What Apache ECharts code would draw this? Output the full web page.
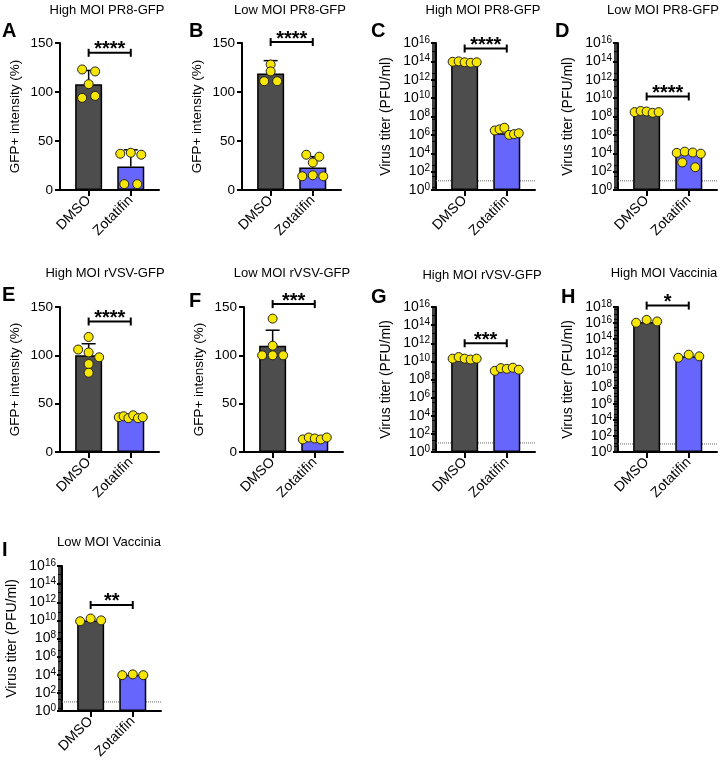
<!DOCTYPE html>
<html><head><meta charset="utf-8">
<script src="https://cdn.jsdelivr.net/npm/echarts@6/dist/echarts.min.js"></script>
<style>html,body{margin:0;padding:0;background:#fff}#c{width:728px;height:767px}</style>
</head><body><div id="c"></div>
<script>
// ---------------- data ----------------
const groups = ['DMSO', 'Zotatifin'];
const panelLetters = ['A','B','C','D','E','F','G','H','I'];
const panelTitles = ['High MOI PR8-GFP','Low MOI PR8-GFP','High MOI PR8-GFP','Low MOI PR8-GFP',
  'High MOI rVSV-GFP','Low MOI rVSV-GFP','High MOI rVSV-GFP','High MOI Vaccinia','Low MOI Vaccinia'];
const panelKinds = ['pct','pct','titer','titer','pct','pct','titer','titer','titer'];
const yTitles = { pct: 'GFP+ intensity (%)', titer: 'Virus titer (PFU/ml)' };
const pctMax = 150, pctStep = 50;
const titerMaxExp = [16,16,16,16,16,16,16,18,16];
const titerStepExp = 2;
const detectionLimit = 10;

const meanDMSO = [108, 119, 8.5e13, 3.5e8, 100, 110, 2.0e10, 1.4e16, 1.0e10];
const meanZot  = [24, 23, 1.5e6, 1.0e4, 35, 13, 1.5e9, 7.5e11, 1.0e4];
const sdDMSO   = [14, 13, null, null, 12, 16, null, null, null];
const sdZot    = [17, 11, null, null, 1.5, 1.5, null, null, null];

const ptsDMSO = [
  [123, 121, 108, 94, 96],
  [128, 121, 111, 111],
  [9e13, 1.0e14, 8e13, 7e13, 8e13],
  [3e8, 4e8, 3.5e8, 2.5e8, 3e8],
  [119, 106, 103, 98, 91, 82],
  [138, 110, 100, 100, 100],
  [2e10, 3e10, 2e10, 1.6e10, 2e10],
  [1.1e16, 2.5e16, 1.6e16],
  [8e9, 1.6e10, 1e10]
];
const ptsZot = [
  [37, 38, 36, 6, 6],
  [36, 28, 34, 14, 15, 14],
  [3e6, 4e6, 6e6, 1e6, 1.2e6, 1.5e6],
  [1.1e4, 1.5e4, 1.2e4, 9e3, 1e3, 3e2],
  [36, 37, 35, 38, 35, 36],
  [13, 15, 14, 13, 15],
  [9e8, 1.8e9, 1.5e9, 2e9, 1.2e9],
  [5e11, 1.2e12, 7.5e11],
  [9e3, 1.1e4, 9e3]
];
const sigStars = ['****','****','****','****','****','***','***','*','**'];
const sigLevel = [140, 151, 2.5e15, 1.5e10, 135, 153, 1e12, 1.5e18, 5e11];

// ---------------- layout / style ----------------
const FONT = 'Liberation Sans, Arial, Helvetica, sans-serif';
const gridLeft = [60, 242, 436, 618, 60, 244, 436, 618, 62];
const gridRow  = [0,0,0,0,1,1,1,1,2];
const rowTop = [43, 307, 566], rowH = [147, 145, 145];
const gridW = 99;
const xMin = -0.68, xMax = 1.67;
const letterPos = [[2,31],[189,31],[371,31],[555,31],[2,295],[189,301],[371,297],[561,297],[2,550]];
const titlePos = [[107,10],[290,10],[483,10],[663,10],[105,273],[292,273],[482,275],[664,273],[109,542]];
const colDMSO = '#4d4d4d', colZot = '#6666fc', colDot = '#f7e600';

const chart = echarts.init(document.getElementById('c'), null, { renderer: 'canvas' });
const tf = k => v => panelKinds[k] === 'titer' ? Math.log10(v) : v;

const grids = [], xAxes = [], yAxes = [], series = [], graphics = [];
for (let k = 0; k < 9; k++) {
  const f = tf(k), kind = panelKinds[k];
  grids.push({ left: gridLeft[k], top: rowTop[gridRow[k]], width: gridW, height: rowH[gridRow[k]] });
  xAxes.push({
    type: 'value', gridIndex: k, min: xMin, max: xMax,
    axisLine: { show: true, onZero: false, lineStyle: { color: '#000', width: 2 } },
    axisTick: { show: true, customValues: [0, 1], length: 6, lineStyle: { color: '#000', width: 2 } },
    axisLabel: { customValues: [0, 1], formatter: v => groups[Math.round(v)], rotate: 45, margin: 8,
      fontSize: 14, color: '#000', fontFamily: FONT },
    splitLine: { show: false }
  });
  const yBase = {
    type: 'value', gridIndex: k, name: yTitles[kind], nameLocation: 'middle',
    nameTextStyle: { fontSize: kind === 'pct' ? 13.5 : 14, color: '#000', fontFamily: FONT },
    axisLine: { show: true, onZero: false, lineStyle: { color: '#000', width: 2 } },
    axisTick: { show: true, length: 5, lineStyle: { color: '#000', width: 2 } },
    splitLine: { show: false }
  };
  if (kind === 'pct') {
    Object.assign(yBase, { min: 0, max: pctMax, interval: pctStep, nameGap: 38,
      axisLabel: { fontSize: 13.5, color: '#000', fontFamily: FONT, margin: 7 } });
  } else {
    Object.assign(yBase, { min: 0, max: titerMaxExp[k], interval: titerStepExp, nameGap: 43,
      minorTick: { show: true, splitNumber: 10, length: 4, lineStyle: { color: '#000', width: 1.5 } },
      axisLabel: { margin: 6, formatter: v => '{b|10}{s|' + v + '}',
        rich: { b: { fontSize: 14, color: '#000', fontFamily: FONT, lineHeight: 16 },
                s: { fontSize: 10, color: '#000', fontFamily: FONT, lineHeight: 7, verticalAlign: 'top' } } } });
  }
  yAxes.push(yBase);

  if (kind === 'titer') {
    series.push({ type: 'line', xAxisIndex: k, yAxisIndex: k, z: 1, silent: true, symbol: 'none',
      lineStyle: { type: 'dotted', color: '#666', width: 1 },
      data: [[xMin, f(detectionLimit)], [xMax, f(detectionLimit)]] });
  }
  series.push({ type: 'bar', xAxisIndex: k, yAxisIndex: k, z: 2, silent: true, barWidth: 27,
    itemStyle: { borderColor: '#000', borderWidth: 1.5 },
    data: [{ value: [0, f(meanDMSO[k])], itemStyle: { color: colDMSO } },
           { value: [1, f(meanZot[k])], itemStyle: { color: colZot } }] });
  if (sdDMSO[k] != null) {
    series.push({ type: 'custom', xAxisIndex: k, yAxisIndex: k, z: 3, silent: true, clip: false,
      encode: { x: 0, y: 1 },
      data: [[0, meanDMSO[k], sdDMSO[k]], [1, meanZot[k], sdZot[k]]],
      renderItem: (p, api) => {
        const x = api.value(0), m = api.value(1), s = api.value(2);
        const a = api.coord([x, m]), b = api.coord([x, m + s]);
        const st = { stroke: '#000', lineWidth: 1.5 };
        return { type: 'group', children: [
          { type: 'line', shape: { x1: a[0], y1: a[1], x2: b[0], y2: b[1] }, style: st },
          { type: 'line', shape: { x1: b[0] - 7, y1: b[1], x2: b[0] + 7, y2: b[1] }, style: st }] };
      } });
  }
  series.push({ id: 'dots' + k, type: 'scatter', xAxisIndex: k, yAxisIndex: k, z: 4, silent: true,
    symbolSize: 9, itemStyle: { color: colDot, borderColor: '#222', borderWidth: 1, opacity: 1 },
    data: [] });
  const stars = sigStars[k];
  series.push({ type: 'custom', xAxisIndex: k, yAxisIndex: k, z: 5, silent: true, clip: false,
    encode: { x: 0, y: 2 },
    data: [[0, 1, f(sigLevel[k])]],
    renderItem: (p, api) => {
      const a = api.coord([api.value(0), api.value(2)]), b = api.coord([api.value(1), api.value(2)]);
      const st = { stroke: '#000', lineWidth: 2 };
      return { type: 'group', children: [
        { type: 'line', shape: { x1: a[0], y1: a[1], x2: b[0], y2: b[1] }, style: st },
        { type: 'line', shape: { x1: a[0], y1: a[1] - 4, x2: a[0], y2: a[1] + 4 }, style: st },
        { type: 'line', shape: { x1: b[0], y1: b[1] - 4, x2: b[0], y2: b[1] + 4 }, style: st },
        { type: 'text', x: (a[0] + b[0]) / 2, y: a[1] - 3,
          style: { text: stars, font: 'bold 20px ' + FONT, fill: '#000',
            align: 'center', verticalAlign: 'middle', textAlign: 'center', textVerticalAlign: 'middle' } }] };
    } });

  graphics.push({ type: 'text', x: letterPos[k][0], y: letterPos[k][1],
    style: { text: panelLetters[k], font: 'bold 20px ' + FONT, fill: '#000',
      align: 'left', verticalAlign: 'middle', textAlign: 'left', textVerticalAlign: 'middle' } });
  graphics.push({ type: 'text', x: titlePos[k][0], y: titlePos[k][1],
    style: { text: panelTitles[k], font: '13px ' + FONT, fill: '#000',
      align: 'center', verticalAlign: 'middle', textAlign: 'center', textVerticalAlign: 'middle' } });
}

chart.setOption({ animation: false, backgroundColor: '#fff', grid: grids, xAxis: xAxes, yAxis: yAxes,
  series: series, graphic: graphics });

// ---------- dot layout (column scatter) via library pixel conversion ----------
function swarm(k, xc, vals) {
  const f = tf(k);
  const fin = { gridIndex: k };
  const ys = vals.map(v => chart.convertToPixel(fin, [xc, f(v)])[1]);
  const ppu = chart.convertToPixel(fin, [1, 0])[0] - chart.convertToPixel(fin, [0, 0])[0];
  const order = vals.map((v, i) => i).sort((a, b) => ys[a] - ys[b]);
  const clusters = []; let cur = [order[0]];
  for (let j = 1; j < order.length; j++) {
    if (ys[order[j]] - ys[order[j - 1]] < 5) cur.push(order[j]);
    else { clusters.push(cur); cur = [order[j]]; }
  }
  clusters.push(cur);
  const offs = new Array(vals.length).fill(0);
  clusters.forEach(c => {
    c.sort((a, b) => a - b);
    const n = c.length;
    const s = n === 1 ? 0 : (n === 2 ? 13 : Math.min(10.5, 24 / (n - 1)));
    c.forEach((i, j) => { offs[i] = (j - (n - 1) / 2) * s; });
  });
  return vals.map((v, i) => [xc + offs[i] / ppu, f(v)]);
}
const upd = [];
for (let k = 0; k < 9; k++) {
  upd.push({ id: 'dots' + k, data: swarm(k, 0, ptsDMSO[k]).concat(swarm(k, 1, ptsZot[k])) });
}
chart.setOption({ series: upd });
</script>
</body></html>
